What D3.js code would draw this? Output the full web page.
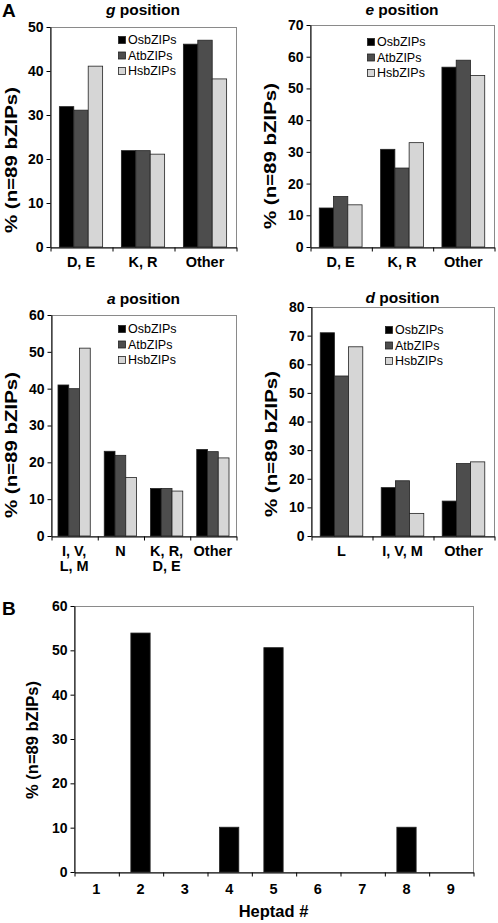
<!DOCTYPE html>
<html><head><meta charset="utf-8">
<script src="https://cdn.jsdelivr.net/npm/d3@7"></script>
<style>
body{margin:0;background:#fff}
svg{display:block}
text{font-family:Arial,"Liberation Sans",Helvetica,sans-serif;fill:#000}
</style>
</head><body>
<svg id="c" width="498" height="923"></svg>
<script>
// ---------- data ----------
const seriesNames = ["OsbZIPs", "AtbZIPs", "HsbZIPs"];
const seriesColors = ["#000000", "#4d4d4d", "#d6d6d6"];

const gCats = ["D, E", "K, R", "Other"];
const gOs = [31.9, 21.9, 46.1];
const gAt = [31.1, 21.9, 47.0];
const gHs = [41.1, 21.1, 38.2];
const gTicks = [0, 10, 20, 30, 40, 50];

const eCats = ["D, E", "K, R", "Other"];
const eOs = [12.3, 30.8, 56.7];
const eAt = [15.9, 24.9, 58.9];
const eHs = [13.3, 32.9, 54.1];
const eTicks = [0, 10, 20, 30, 40, 50, 60, 70];

const aCats = [["I, V,", "L, M"], ["N"], ["K, R,", "D, E"], ["Other"]];
const aOs = [41.0, 23.0, 12.9, 23.5];
const aAt = [40.0, 21.9, 12.9, 22.9];
const aHs = [51.0, 15.9, 12.2, 21.2];
const aTicks = [0, 10, 20, 30, 40, 50, 60];

const dCats = [["L"], ["I, V, M"], ["Other"]];
const dOs = [71.0, 16.9, 12.2];
const dAt = [55.9, 19.3, 25.3];
const dHs = [66.1, 7.9, 25.9];
const dTicks = [0, 10, 20, 30, 40, 50, 60, 70, 80];

const heptads = ["1", "2", "3", "4", "5", "6", "7", "8", "9"];
const heptadPct = [0, 53.9, 0, 10.1, 50.6, 0, 0, 10.1, 0];
const bTicks = [0, 10, 20, 30, 40, 50, 60];

const yTitle = "% (n=89 bZIPs)";

// ---------- drawing ----------
const svg = d3.select("#c");
const GAP = 1.3; // gap between groups, in bar widths

function frame(g, x0, x1, yTop, yBot) {
  g.append("rect").attr("x", x0 + 0.5).attr("y", yTop + 0.5)
    .attr("width", x1 - x0).attr("height", yBot - yTop)
    .attr("fill", "none").attr("stroke", "#8a8a8a").attr("stroke-width", 1);
}

function yAxis(g, y, x0, ticks) {
  const ax = g.append("g").attr("transform", `translate(${x0 + 0.5},0)`)
    .call(d3.axisLeft(y).tickValues(ticks).tickSize(4).tickSizeOuter(0).tickPadding(3));
  ax.select(".domain").attr("stroke", "#000");
  ax.selectAll(".tick line").attr("stroke", "#000");
  ax.selectAll(".tick text").attr("font-size", 14).attr("font-weight", "bold")
    .attr("font-family", "Arial, 'Liberation Sans', sans-serif").attr("fill", "#000");
}

function xTickAxis(g, x0, x1, n, yBot) {
  const lin = d3.scaleLinear().domain([0, n]).range([x0 + 0.5, x1 + 0.5]);
  const ax = g.append("g").attr("transform", `translate(0,${yBot + 0.5})`)
    .call(d3.axisBottom(lin).tickValues(d3.range(n + 1)).tickSize(4).tickSizeOuter(0).tickFormat(""));
  ax.select(".domain").attr("stroke", "#000");
  ax.selectAll(".tick line").attr("stroke", "#000");
}

function yLabel(g, cx, cy, len) {
  const t = g.append("text")
    .attr("transform", `translate(${cx},${cy}) rotate(-90)`)
    .attr("text-anchor", "middle").attr("dominant-baseline", "central")
    .attr("font-size", 16.5).attr("font-weight", "bold").text(yTitle);
  if (len) t.attr("textLength", len).attr("lengthAdjust", "spacingAndGlyphs");
}

function panel(o) {
  const g = svg.append("g");
  const y = d3.scaleLinear().domain([0, o.max]).range([o.yBot, o.yTop]);
  const n = o.cats.length;
  const p = GAP / (3 + GAP);
  const x = d3.scaleBand().domain(d3.range(n)).range([o.x0, o.x1])
    .paddingInner(p).paddingOuter(p / 2);
  const xs = d3.scaleBand().domain(d3.range(3)).range([0, x.bandwidth()]);
  frame(g, o.x0, o.x1, o.yTop, o.yBot);
  const vals = o.vals;
  for (let s = 0; s < 3; s++) {
    g.append("g").selectAll("rect").data(vals[s]).join("rect")
      .attr("x", (d, i) => x(i) + xs(s))
      .attr("y", d => y(d))
      .attr("width", xs.bandwidth())
      .attr("height", d => y(0) - y(d))
      .attr("fill", seriesColors[s])
      .attr("stroke", "#222").attr("stroke-width", 0.8);
  }
  yAxis(g, y, o.x0, o.ticks);
  xTickAxis(g, o.x0, o.x1, n, o.yBot);
  // category labels
  o.cats.forEach((c, i) => {
    const lines = Array.isArray(c) ? c : [c];
    lines.forEach((ln, k) => {
      g.append("text").attr("x", x(i) + x.bandwidth() / 2)
        .attr("y", o.labelY + k * 15)
        .attr("text-anchor", "middle").attr("font-size", 14.5).attr("font-weight", "bold")
        .text(ln);
    });
  });
  // title
  const t = g.append("text").attr("x", (o.x0 + o.x1) / 2).attr("y", o.titleY)
    .attr("text-anchor", "middle").attr("font-size", 15.5).attr("font-weight", "bold");
  t.append("tspan").attr("font-style", "italic").text(o.letter);
  t.append("tspan").text(" position");
  // legend
  seriesNames.forEach((s, i) => {
    const ly = o.legY + i * 15.5;
    g.append("rect").attr("x", o.legX + 0.5).attr("y", ly - 3.5)
      .attr("width", 7).attr("height", 7)
      .attr("fill", seriesColors[i]).attr("stroke", "#222").attr("stroke-width", 0.8);
    g.append("text").attr("x", o.legX + 10).attr("y", ly)
      .attr("dominant-baseline", "central").attr("font-size", 12.5).text(s);
  });
  yLabel(g, o.ylx, o.yly, 146);
}

panel({x0: 50, x1: 236, yTop: 27, yBot: 247, max: 50, ticks: gTicks, cats: gCats,
  vals: [gOs, gAt, gHs], letter: "g", titleY: 15, legX: 118, legY: 40,
  labelY: 267, ylx: 11, yly: 160});
panel({x0: 310, x1: 494, yTop: 25, yBot: 247, max: 70, ticks: eTicks, cats: eCats,
  vals: [eOs, eAt, eHs], letter: "e", titleY: 15, legX: 367, legY: 42,
  labelY: 267, ylx: 270, yly: 156});
panel({x0: 51, x1: 236, yTop: 315, yBot: 536, max: 60, ticks: aTicks, cats: aCats,
  vals: [aOs, aAt, aHs], letter: "a", titleY: 304, legX: 118, legY: 329,
  labelY: 556, ylx: 11, yly: 445});
panel({x0: 311, x1: 494, yTop: 307, yBot: 536, max: 80, ticks: dTicks, cats: dCats,
  vals: [dOs, dAt, dHs], letter: "d", titleY: 303, legX: 385, legY: 330,
  labelY: 556, ylx: 271, yly: 444});

// Panel B
(function () {
  const x0 = 74, x1 = 473, yTop = 606, yBot = 872;
  const g = svg.append("g");
  const y = d3.scaleLinear().domain([0, 60]).range([yBot, yTop]);
  const p = GAP / (1 + GAP);
  const x = d3.scaleBand().domain(heptads).range([x0, x1]).paddingInner(p).paddingOuter(p / 2);
  frame(g, x0, x1, yTop, yBot);
  g.append("g").selectAll("rect").data(heptads.map((h, i) => ({h, v: heptadPct[i]})).filter(d => d.v > 0))
    .join("rect")
    .attr("x", d => x(d.h)).attr("y", d => y(d.v))
    .attr("width", x.bandwidth()).attr("height", d => y(0) - y(d.v))
    .attr("fill", "#000").attr("stroke", "#222").attr("stroke-width", 0.8);
  yAxis(g, y, x0, bTicks);
  xTickAxis(g, x0, x1, heptads.length, yBot);
  heptads.forEach(h => {
    g.append("text").attr("x", x(h) + x.bandwidth() / 2).attr("y", 894)
      .attr("text-anchor", "middle").attr("font-size", 14.5).attr("font-weight", "bold").text(h);
  });
  g.append("text").attr("x", (x0 + x1) / 2).attr("y", 917).attr("text-anchor", "middle")
    .attr("font-size", 16.5).attr("font-weight", "bold").text("Heptad #");
  yLabel(g, 32, 740, null);
})();

// Panel letters
svg.append("text").attr("x", 2).attr("y", 17).attr("font-size", 19).attr("font-weight", "bold").text("A");
svg.append("text").attr("x", 2).attr("y", 615).attr("font-size", 19).attr("font-weight", "bold").text("B");
</script>
</body></html>
